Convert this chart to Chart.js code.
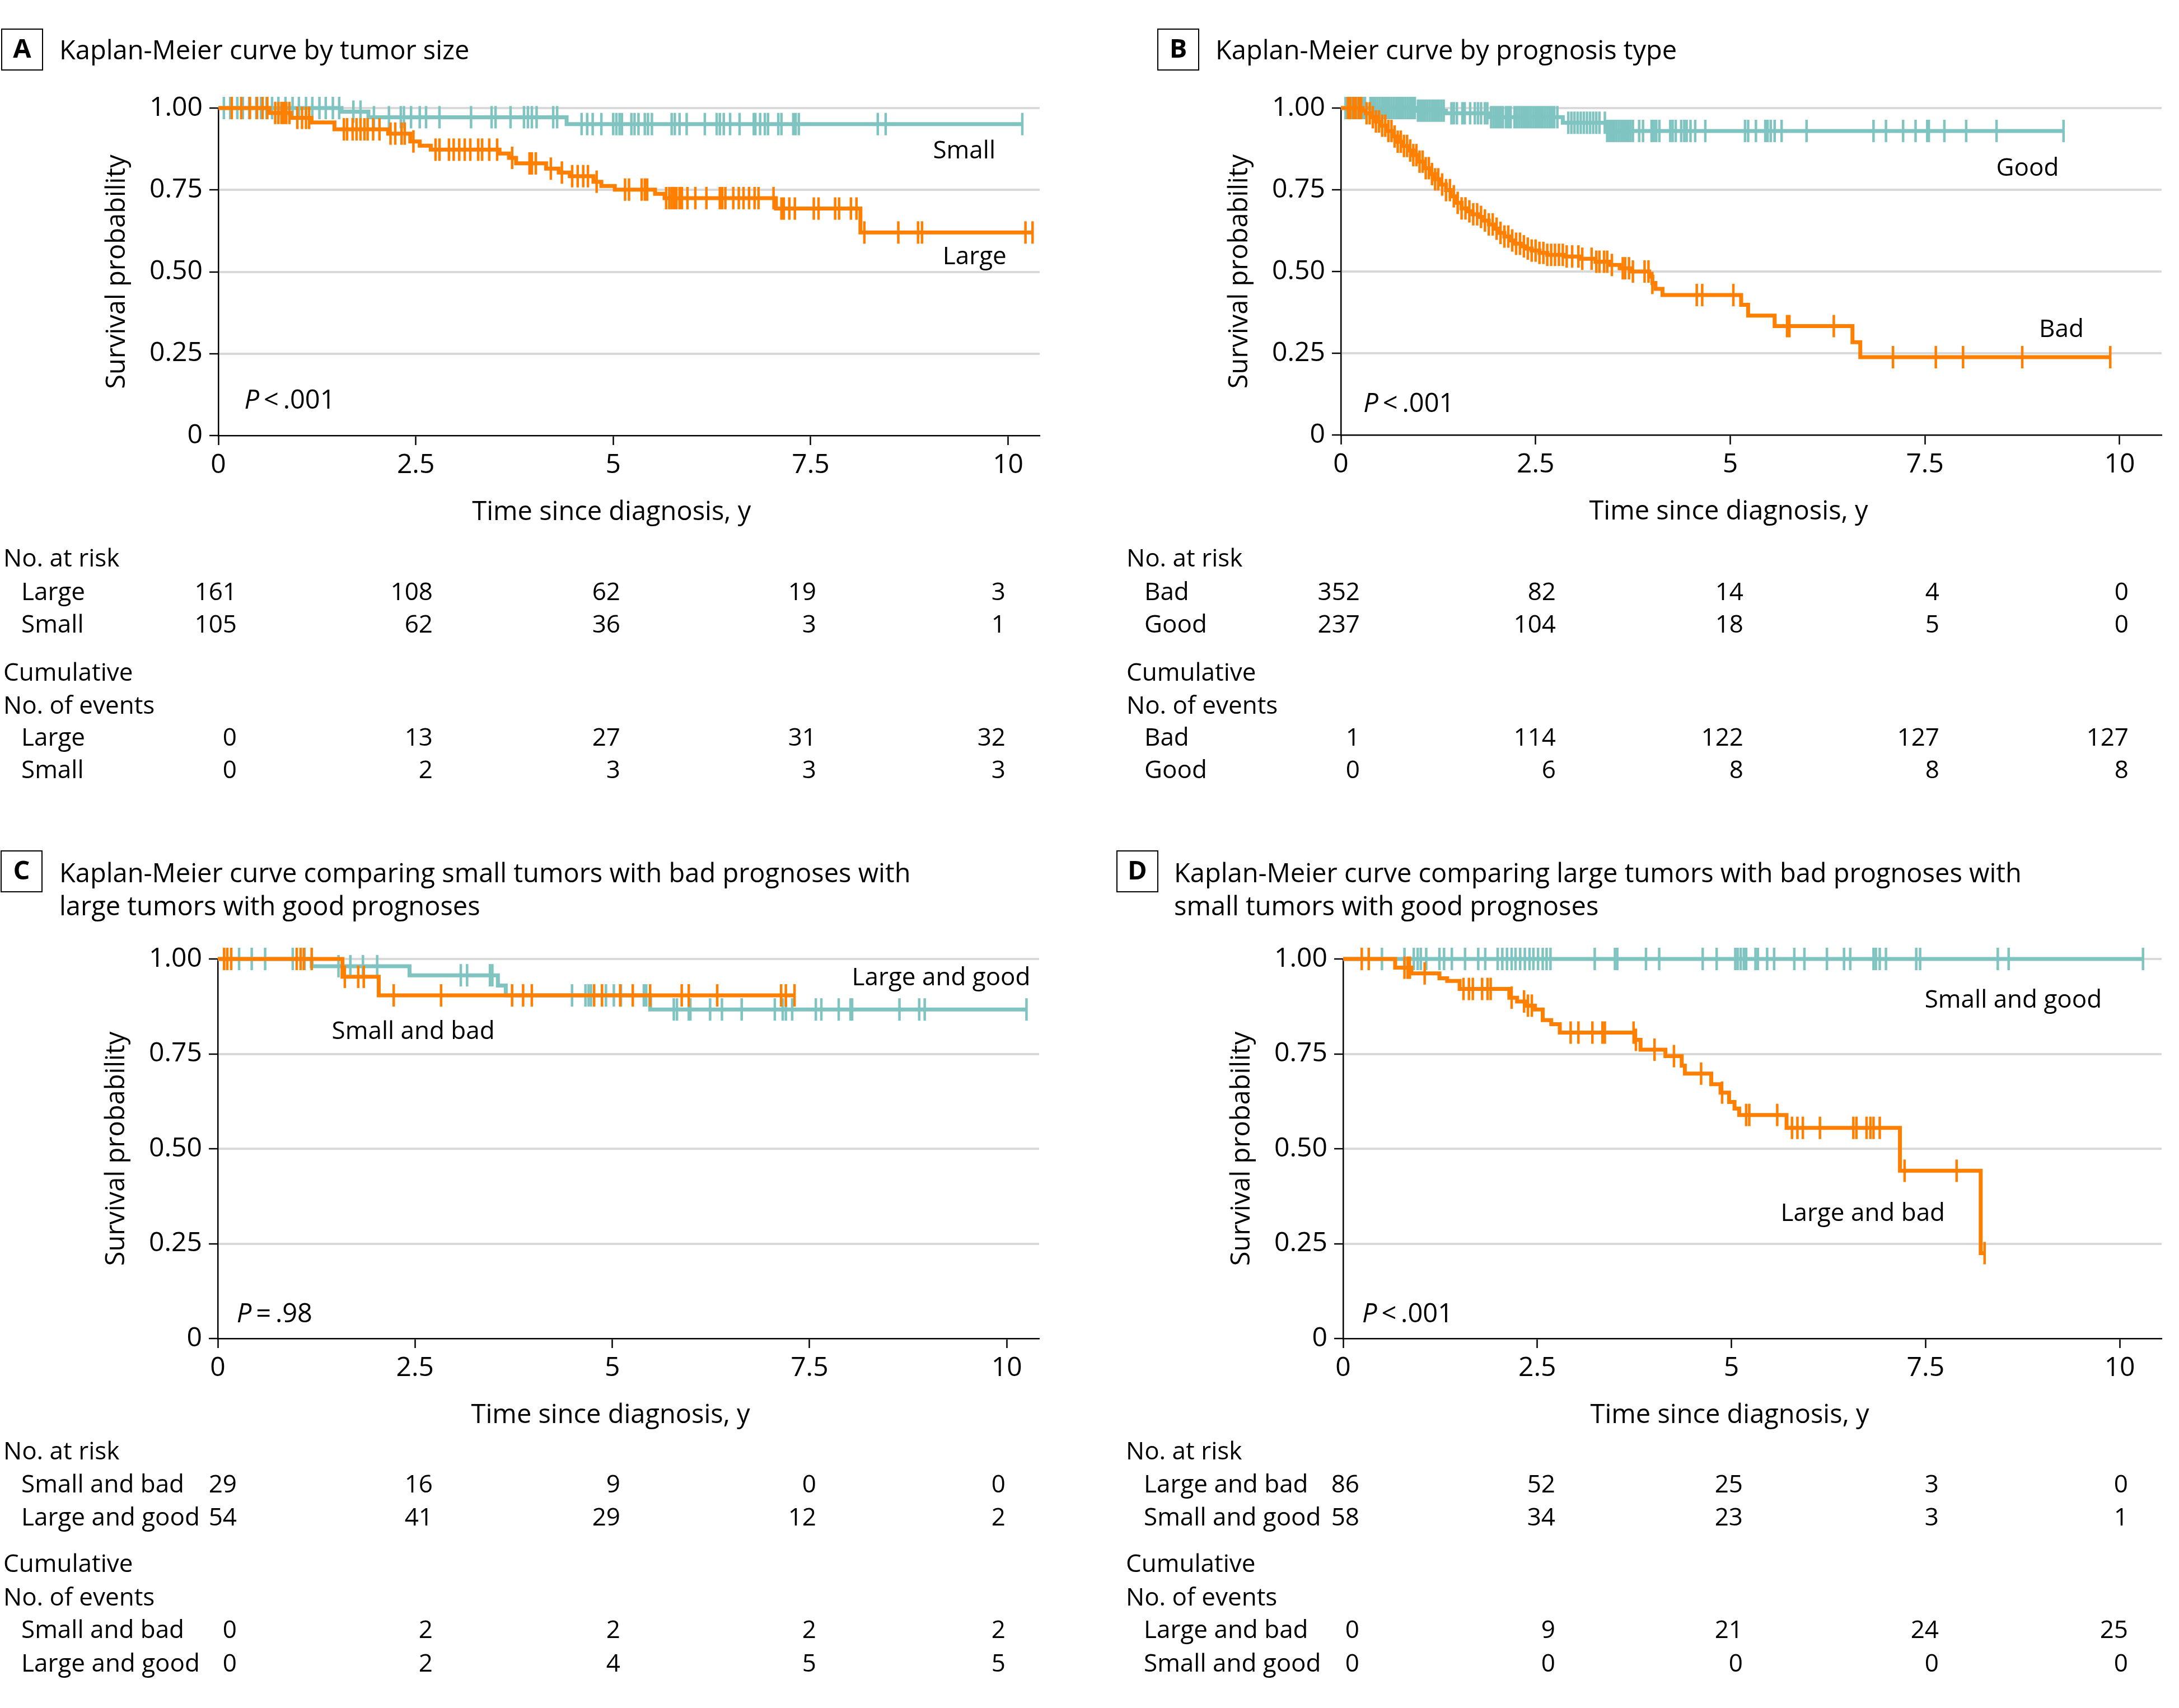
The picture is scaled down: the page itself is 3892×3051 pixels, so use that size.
<!DOCTYPE html>
<html>
<head>
<meta charset="utf-8">
<script src="https://cdn.jsdelivr.net/npm/chart.js@4.4.0/dist/chart.umd.min.js"></script>
<style>
  body { margin: 0; background: #fff; }
  #wrap { position: relative; width: 3892px; height: 3051px; background: #fff; }
  canvas { position: absolute; }
</style>
</head>
<body>
<div id="wrap">
  <canvas id="chartA" width="1946" height="1500" style="left:0;top:0"></canvas>
  <canvas id="chartB" width="1946" height="1500" style="left:1946px;top:0"></canvas>
  <canvas id="chartC" width="1946" height="1551" style="left:0;top:1500px"></canvas>
  <canvas id="chartD" width="1946" height="1551" style="left:1946px;top:1500px"></canvas>
</div>
<script>
// axes
const xTicks = [0, 2.5, 5, 7.5, 10];
const xTickLabels = ['0', '2.5', '5', '7.5', '10'];
const yTicks = [0, 0.25, 0.5, 0.75, 1];
const yTickLabels = ['0', '0.25', '0.50', '0.75', '1.00'];

// A - tumor size : [time, survival] steps, censored times
const sizeLargeSteps = [[0, 1], [0.65, 0.985], [0.92, 0.970], [1.18, 0.956], [1.47, 0.935], [2.15, 0.922], [2.43, 0.898],
  [2.55, 0.885], [2.69, 0.873], [3.56, 0.861], [3.68, 0.848], [3.77, 0.831], [4.15, 0.815], [4.31, 0.803], [4.45, 0.792],
  [4.75, 0.775], [4.85, 0.762], [5.02, 0.751], [5.53, 0.738], [5.65, 0.725], [7.06, 0.693], [8.13, 0.620], [10.32, 0.620]];
const sizeLargeCensored = [0.17, 0.29, 0.40, 0.49, 0.56, 0.62, 0.72, 0.76, 0.80, 0.83, 0.86, 0.90, 1.00, 1.06, 1.11, 1.15,
  1.59, 1.63, 1.70, 1.75, 1.80, 1.85, 1.89, 1.96, 2.04, 2.18, 2.24, 2.32, 2.36, 2.47, 2.75, 2.80, 2.92, 2.98, 3.05, 3.12,
  3.19, 3.29, 3.34, 3.43, 3.53, 3.72, 3.94, 3.97, 4.02, 4.21, 4.35, 4.48, 4.55, 4.62, 4.68, 4.79, 5.15, 5.20, 5.36, 5.40,
  5.43, 5.67, 5.71, 5.74, 5.77, 5.80, 5.84, 5.87, 5.94, 6.04, 6.18, 6.35, 6.38, 6.42, 6.52, 6.59, 6.65, 6.72, 6.79, 6.84,
  7.03, 7.13, 7.16, 7.23, 7.30, 7.54, 7.60, 7.81, 7.86, 8.01, 8.08, 8.18, 8.61, 8.86, 8.91, 10.22, 10.31];
const sizeSmallSteps = [[0, 1], [1.56, 0.989], [1.90, 0.972], [4.41, 0.951], [10.18, 0.951]];
const sizeSmallCensored = [0.07, 0.15, 0.24, 0.31, 0.39, 0.48, 0.54, 0.61, 0.68, 0.76, 0.85, 0.94, 1.02, 1.11, 1.19, 1.28,
  1.36, 1.45, 1.53, 1.71, 1.80, 1.97, 2.16, 2.31, 2.35, 2.44, 2.55, 2.63, 2.80, 3.20, 3.46, 3.51, 3.70, 3.87, 3.92, 3.97,
  4.03, 4.24, 4.29, 4.60, 4.67, 4.74, 4.85, 5.00, 5.04, 5.08, 5.11, 5.23, 5.27, 5.32, 5.40, 5.44, 5.49, 5.74, 5.78, 5.84,
  5.93, 6.16, 6.31, 6.35, 6.40, 6.48, 6.60, 6.78, 6.80, 6.86, 6.92, 6.96, 7.09, 7.13, 7.28, 7.31, 7.35, 8.35, 8.45, 10.18];
const sizeRiskLarge = [161, 108, 62, 19, 3];
const sizeRiskSmall = [105, 62, 36, 3, 1];
const sizeEventsLarge = [0, 13, 27, 31, 32];
const sizeEventsSmall = [0, 2, 3, 3, 3];

// B - prognosis type
const progBadSteps = [[0, 1], [0.28, 0.992], [0.32, 0.984], [0.38, 0.972], [0.45, 0.959], [0.52, 0.946], [0.59, 0.930],
  [0.66, 0.913], [0.73, 0.897], [0.80, 0.884], [0.87, 0.870], [0.93, 0.856], [1.00, 0.836], [1.07, 0.816], [1.14, 0.798],
  [1.21, 0.782], [1.28, 0.766], [1.35, 0.749], [1.41, 0.730], [1.48, 0.710], [1.55, 0.693], [1.62, 0.684], [1.69, 0.675],
  [1.76, 0.667], [1.83, 0.656], [1.90, 0.644], [1.96, 0.631], [2.03, 0.618], [2.10, 0.607], [2.17, 0.595], [2.24, 0.585],
  [2.31, 0.577], [2.38, 0.570], [2.45, 0.564], [2.55, 0.557], [2.65, 0.551], [2.86, 0.546], [3.06, 0.539], [3.27, 0.530],
  [3.44, 0.520], [3.58, 0.510], [3.72, 0.500], [3.96, 0.484], [4.00, 0.465], [4.04, 0.447], [4.13, 0.428], [5.14, 0.398],
  [5.23, 0.365], [5.57, 0.333], [6.57, 0.284], [6.67, 0.238], [9.88, 0.238]];
const progBadCensored = [0.09, 0.12, 0.16, 0.19, 0.23, 0.26, 0.33, 0.37, 0.41, 0.45, 0.49, 0.53, 0.57, 0.61, 0.65, 0.69,
  0.73, 0.77, 0.81, 0.85, 0.89, 0.93, 0.97, 1.01, 1.05, 1.09, 1.13, 1.17, 1.21, 1.25, 1.30, 1.35, 1.40, 1.45, 1.50, 1.55,
  1.60, 1.65, 1.70, 1.75, 1.80, 1.85, 1.90, 1.95, 2.00, 2.05, 2.10, 2.15, 2.20, 2.25, 2.30, 2.35, 2.40, 2.45, 2.50, 2.55,
  2.60, 2.65, 2.70, 2.75, 2.80, 2.85, 2.90, 2.97, 3.05, 3.10, 3.22, 3.28, 3.32, 3.38, 3.42, 3.48, 3.62, 3.65, 3.70, 3.75,
  3.90, 3.95, 4.00, 4.57, 4.64, 5.04, 5.73, 5.76, 6.33, 7.09, 7.64, 7.99, 8.75, 9.88];
const progGoodSteps = [[0, 1], [0.97, 0.992], [1.35, 0.984], [1.90, 0.972], [2.85, 0.955], [3.40, 0.930], [9.28, 0.930]];
const progGoodCensored = [0.06, 0.08, 0.10, 0.12, 0.14, 0.16, 0.18, 0.20, 0.22, 0.25, 0.28, 0.31, 0.38, 0.41, 0.44, 0.47,
  0.50, 0.53, 0.56, 0.59, 0.62, 0.65, 0.68, 0.71, 0.74, 0.77, 0.80, 0.83, 0.86, 0.89, 0.92, 0.95, 0.99, 1.02, 1.05, 1.08,
  1.11, 1.14, 1.17, 1.20, 1.23, 1.26, 1.29, 1.32, 1.42, 1.45, 1.49, 1.56, 1.59, 1.66, 1.72, 1.76, 1.80, 1.85, 1.88, 1.93,
  1.96, 1.99, 2.02, 2.05, 2.08, 2.12, 2.15, 2.18, 2.23, 2.26, 2.29, 2.32, 2.35, 2.38, 2.41, 2.44, 2.47, 2.50, 2.53, 2.56,
  2.59, 2.62, 2.65, 2.68, 2.71, 2.74, 2.78, 2.92, 2.96, 3.00, 3.04, 3.08, 3.12, 3.16, 3.20, 3.24, 3.28, 3.32, 3.39, 3.42,
  3.45, 3.48, 3.51, 3.54, 3.57, 3.60, 3.63, 3.66, 3.69, 3.72, 3.75, 3.83, 3.88, 3.99, 4.02, 4.05, 4.09, 4.23, 4.26, 4.30,
  4.37, 4.41, 4.44, 4.49, 4.55, 4.68, 5.19, 5.23, 5.33, 5.45, 5.48, 5.52, 5.57, 5.66, 5.98, 6.84, 7.00, 7.22, 7.38, 7.53,
  7.55, 7.75, 8.03, 8.42, 9.28];
const progRiskBad = [352, 82, 14, 4, 0];
const progRiskGood = [237, 104, 18, 5, 0];
const progEventsBad = [1, 114, 122, 127, 127];
const progEventsGood = [0, 6, 8, 8, 8];

// C - small & bad vs large & good
const smallBadSteps = [[0, 1], [1.58, 0.953], [2.04, 0.904], [7.31, 0.904]];
const smallBadCensored = [0.08, 0.12, 0.17, 1.00, 1.05, 1.09, 1.19, 1.61, 1.78, 1.85, 2.23, 2.83, 3.73, 3.87, 3.98, 4.77,
  4.87, 5.10, 5.26, 5.48, 5.88, 5.97, 6.33, 7.14, 7.20, 7.31];
const largeGoodSteps = [[0, 1], [1.19, 0.981], [2.43, 0.957], [3.55, 0.930], [3.65, 0.904], [5.48, 0.867], [10.25, 0.867]];
const largeGoodCensored = [0.08, 0.27, 0.43, 0.60, 0.95, 1.10, 1.53, 1.68, 1.84, 2.02, 3.08, 3.16, 3.45, 3.48, 4.49, 4.66,
  4.70, 4.73, 4.92, 5.02, 5.11, 5.40, 5.43, 5.78, 5.82, 5.97, 5.99, 6.24, 6.39, 6.64, 7.06, 7.16, 7.20, 7.28, 7.58, 7.65,
  7.87, 8.02, 8.04, 8.64, 8.89, 8.96, 10.25];
const smallBadRisk = [29, 16, 9, 0, 0];
const largeGoodRisk = [54, 41, 29, 12, 2];
const smallBadEvents = [0, 2, 2, 2, 2];
const largeGoodEvents = [0, 2, 4, 5, 5];

// D - large & bad vs small & good
const largeBadSteps = [[0, 1], [0.67, 0.977], [0.88, 0.962], [1.24, 0.949], [1.34, 0.942], [1.50, 0.921], [2.14, 0.898],
  [2.24, 0.888], [2.36, 0.877], [2.47, 0.867], [2.57, 0.839], [2.68, 0.828], [2.79, 0.806], [3.76, 0.787], [3.83, 0.761],
  [4.15, 0.744], [4.36, 0.719], [4.40, 0.698], [4.74, 0.670], [4.86, 0.648], [4.97, 0.623], [5.04, 0.606], [5.10, 0.589],
  [5.71, 0.555], [7.17, 0.442], [8.21, 0.225], [8.26, 0.225]];
const largeBadCensored = [0.24, 0.33, 0.79, 0.83, 0.86, 1.05, 1.55, 1.62, 1.67, 1.79, 1.86, 1.90, 2.17, 2.33, 2.38, 2.43,
  2.93, 3.03, 3.21, 3.34, 3.37, 3.74, 3.77, 4.01, 4.26, 4.61, 4.88, 5.19, 5.23, 5.59, 5.78, 5.85, 5.92, 6.14, 6.57, 6.61,
  6.74, 6.79, 6.83, 6.91, 7.23, 7.90, 8.26];
const smallGoodSteps = [[0, 1], [10.30, 1]];
const smallGoodCensored = [0.50, 0.79, 0.91, 0.96, 1.00, 1.07, 1.24, 1.30, 1.40, 1.57, 1.74, 1.83, 1.99, 2.05, 2.11, 2.17,
  2.22, 2.28, 2.34, 2.40, 2.45, 2.51, 2.57, 2.62, 2.67, 3.24, 3.50, 3.53, 3.90, 4.07, 4.63, 4.81, 5.05, 5.08, 5.12, 5.16,
  5.19, 5.31, 5.34, 5.46, 5.55, 5.81, 5.94, 6.23, 6.45, 6.53, 6.83, 6.86, 6.91, 6.99, 7.38, 7.43, 8.43, 8.57, 10.30];
const largeBadRisk = [86, 52, 25, 3, 0];
const smallGoodRisk = [58, 34, 23, 3, 1];
const largeBadEvents = [0, 9, 21, 24, 25];
const smallGoodEvents = [0, 0, 0, 0, 0];

const ORANGE = '#ff7f00';
const TEAL = '#7fc4c0';
const FONT = "'Open Sans', 'DejaVu Sans', sans-serif";
const FS = 47;       // titles, axis titles, P value
const FS_SMALL = 44; // table and curve names

Chart.defaults.font.family = FONT;
Chart.defaults.font.size = 48;
Chart.defaults.color = '#000';

function survivalAt(steps, t) {
  let s = steps[0][1];
  for (const st of steps) { if (st[0] <= t) s = st[1]; }
  return s;
}

function curve(steps, censored, color) {
  return [
    { data: steps.map(p => ({ x: p[0], y: p[1] })), borderColor: color, borderWidth: 7, stepped: 'before',
      pointRadius: 0, fill: false, clip: false },
    { data: censored.map(t => ({ x: t, y: survivalAt(steps, t) })), showLine: false, pointStyle: 'line', rotation: 90,
      pointRadius: 20, pointBorderWidth: 4.5, borderColor: color, pointBorderColor: color, clip: false }
  ];
}

const topRows = [1012, 1072, 1130, 1216, 1275, 1332, 1390];
const bottomRows = [1107, 1166, 1225, 1308, 1368, 1426, 1486];
// right edge of each number column, from the table's left edge
const tableCols = [417, 767, 1102, 1452, 1790];

const panels = [
  {
    id: 'chartA', letter: 'A', w: 1946, h: 1500, area: { left: 390, right: 1857, top: 193, bottom: 778 }, xMax: 10.40,
    box: { x: 3, y: 52 }, titleX: 106, title: ['Kaplan-Meier curve by tumor size'], titleY: [106],
    datasets: [...curve(sizeLargeSteps, sizeLargeCensored, ORANGE), ...curve(sizeSmallSteps, sizeSmallCensored, TEAL)],
    p: { t: 0.33, s: 0.082, text: '\u2009<\u2009.001' },
    labels: [{ text: 'Small', t: 9.84, s: 0.846 }, { text: 'Large', t: 9.98, s: 0.523 }],
    tableX: 6, rowsY: topRows,
    risk: [['Large', sizeRiskLarge], ['Small', sizeRiskSmall]],
    events: [['Large', sizeEventsLarge], ['Small', sizeEventsSmall]]
  },
  {
    id: 'chartB', letter: 'B', w: 1946, h: 1500, area: { left: 449, right: 1915, top: 193, bottom: 777 }, xMax: 10.54,
    box: { x: 122, y: 52 }, titleX: 225, title: ['Kaplan-Meier curve by prognosis type'], titleY: [106],
    datasets: [...curve(progBadSteps, progBadCensored, ORANGE), ...curve(progGoodSteps, progGoodCensored, TEAL)],
    p: { t: 0.29, s: 0.070, text: '\u2009<\u2009.001' },
    labels: [{ text: 'Good', t: 9.22, s: 0.792 }, { text: 'Bad', t: 9.54, s: 0.30 }],
    tableX: 66, rowsY: topRows,
    risk: [['Bad', progRiskBad], ['Good', progRiskGood]],
    events: [['Bad', progEventsBad], ['Good', progEventsGood]]
  },
  {
    id: 'chartC', letter: 'C', w: 1946, h: 1551, area: { left: 389, right: 1856, top: 213, bottom: 891 }, xMax: 10.41,
    box: { x: 2, y: 20 }, titleX: 106,
    title: ['Kaplan-Meier curve comparing small tumors with bad prognoses with', 'large tumors with good prognoses'],
    titleY: [76, 135],
    datasets: [...curve(smallBadSteps, smallBadCensored, ORANGE), ...curve(largeGoodSteps, largeGoodCensored, TEAL)],
    p: { t: 0.24, s: 0.043, text: '\u2009=\u2009.98' },
    labels: [{ text: 'Large and good', t: 10.30, s: 0.931 }, { text: 'Small and bad', t: 3.51, s: 0.789 }],
    tableX: 6, rowsY: bottomRows,
    risk: [['Small and bad', smallBadRisk], ['Large and good', largeGoodRisk]],
    events: [['Small and bad', smallBadEvents], ['Large and good', largeGoodEvents]]
  },
  {
    id: 'chartD', letter: 'D', w: 1946, h: 1551, area: { left: 453, right: 1915, top: 213, bottom: 891 }, xMax: 10.54,
    box: { x: 49, y: 20 }, titleX: 151,
    title: ['Kaplan-Meier curve comparing large tumors with bad prognoses with', 'small tumors with good prognoses'],
    titleY: [76, 135],
    datasets: [...curve(largeBadSteps, largeBadCensored, ORANGE), ...curve(smallGoodSteps, smallGoodCensored, TEAL)],
    p: { t: 0.245, s: 0.043, text: '\u2009<\u2009.001' },
    labels: [{ text: 'Small and good', t: 9.77, s: 0.871 }, { text: 'Large and bad', t: 7.75, s: 0.31 }],
    tableX: 65, rowsY: bottomRows,
    risk: [['Large and bad', largeBadRisk], ['Small and good', smallGoodRisk]],
    events: [['Large and bad', largeBadEvents], ['Small and good', smallGoodEvents]]
  }
];

// texts around the plot: panel letter, title, axis titles, P value, curve names, tables
const panelText = {
  id: 'panelText',
  afterDraw(chart, args, opts) {
    const p = opts.panel;
    const ctx = chart.ctx;
    const xs = chart.scales.x, ys = chart.scales.y;
    const a = chart.chartArea;
    ctx.save();
    ctx.fillStyle = '#000';
    ctx.strokeStyle = '#000';

    // letter box
    ctx.lineWidth = 2;
    ctx.strokeRect(p.box.x, p.box.y, 73, 73);
    ctx.font = 'bold ' + FS + 'px ' + FONT;
    ctx.textAlign = 'center';
    ctx.textBaseline = 'middle';
    ctx.fillText(p.letter, p.box.x + 36.5, p.box.y + 38);

    // title
    ctx.font = FS + 'px ' + FONT;
    ctx.textAlign = 'left';
    ctx.textBaseline = 'alphabetic';
    p.title.forEach((line, i) => ctx.fillText(line, p.titleX, p.titleY[i]));

    // axis titles
    ctx.textAlign = 'center';
    ctx.fillText('Time since diagnosis, y', xs.getPixelForValue(5) - 3, a.bottom + 151);
    ctx.save();
    ctx.translate(a.left - 167, (a.top + a.bottom) / 2);
    ctx.rotate(-Math.PI / 2);
    ctx.fillText('Survival probability', 0, 0);
    ctx.restore();

    // P value
    ctx.textAlign = 'left';
    const px = xs.getPixelForValue(p.p.t), py = ys.getPixelForValue(p.p.s);
    ctx.font = 'italic ' + FS + 'px ' + FONT;
    ctx.fillText('P', px, py);
    const pw = ctx.measureText('P').width;
    ctx.font = FS + 'px ' + FONT;
    ctx.fillText(p.p.text, px + pw, py);

    // curve names
    ctx.font = FS_SMALL + 'px ' + FONT;
    ctx.textAlign = 'right';
    p.labels.forEach(l => ctx.fillText(l.text, xs.getPixelForValue(l.t), ys.getPixelForValue(l.s)));

    // tables
    const y = p.rowsY;
    ctx.textAlign = 'left';
    ctx.fillText('No. at risk', p.tableX, y[0]);
    ctx.fillText('Cumulative', p.tableX, y[3]);
    ctx.fillText('No. of events', p.tableX, y[4]);
    const rows = [[p.risk[0], y[1]], [p.risk[1], y[2]], [p.events[0], y[5]], [p.events[1], y[6]]];
    rows.forEach(([row, yy]) => {
      ctx.textAlign = 'left';
      ctx.fillText(row[0], p.tableX + 32, yy);
      ctx.textAlign = 'right';
      row[1].forEach((v, i) => ctx.fillText(String(v), p.tableX + tableCols[i], yy));
    });
    ctx.restore();
  }
};

panels.forEach(p => {
  new Chart(document.getElementById(p.id), {
    type: 'line',
    data: { datasets: p.datasets },
    plugins: [panelText],
    options: {
      responsive: false,
      animation: false,
      events: [],
      layout: {
        padding: { left: p.area.left - 200, top: p.area.top, right: p.w - p.area.right, bottom: p.h - p.area.bottom - 120 }
      },
      plugins: {
        legend: { display: false },
        tooltip: { enabled: false },
        panelText: { panel: p }
      },
      scales: {
        x: {
          type: 'linear', min: 0, max: p.xMax,
          afterBuildTicks: s => { s.ticks = xTicks.map(v => ({ value: v })); },
          afterFit: s => { s.height = 120; },
          ticks: { autoSkip: false, maxRotation: 0, padding: 8, color: '#000',
            callback: v => xTickLabels[xTicks.indexOf(v)] },
          grid: { drawOnChartArea: false, tickLength: 17, tickColor: '#000', tickWidth: 2.5 },
          border: { color: '#000', width: 2.5 }
        },
        y: {
          type: 'linear', min: 0, max: 1,
          afterBuildTicks: s => { s.ticks = yTicks.map(v => ({ value: v })); },
          afterFit: s => { s.width = 200; },
          ticks: { padding: 12, color: '#000', callback: v => yTickLabels[yTicks.indexOf(v)] },
          grid: {
            color: c => (c.tick && c.tick.value === 0) ? 'rgba(0,0,0,0)' : '#d9d9d9',
            lineWidth: 4, tickLength: 16, tickColor: '#000', tickWidth: 2.5
          },
          border: { color: '#000', width: 2.5 }
        }
      }
    }
  });
});
</script>
</body>
</html>
